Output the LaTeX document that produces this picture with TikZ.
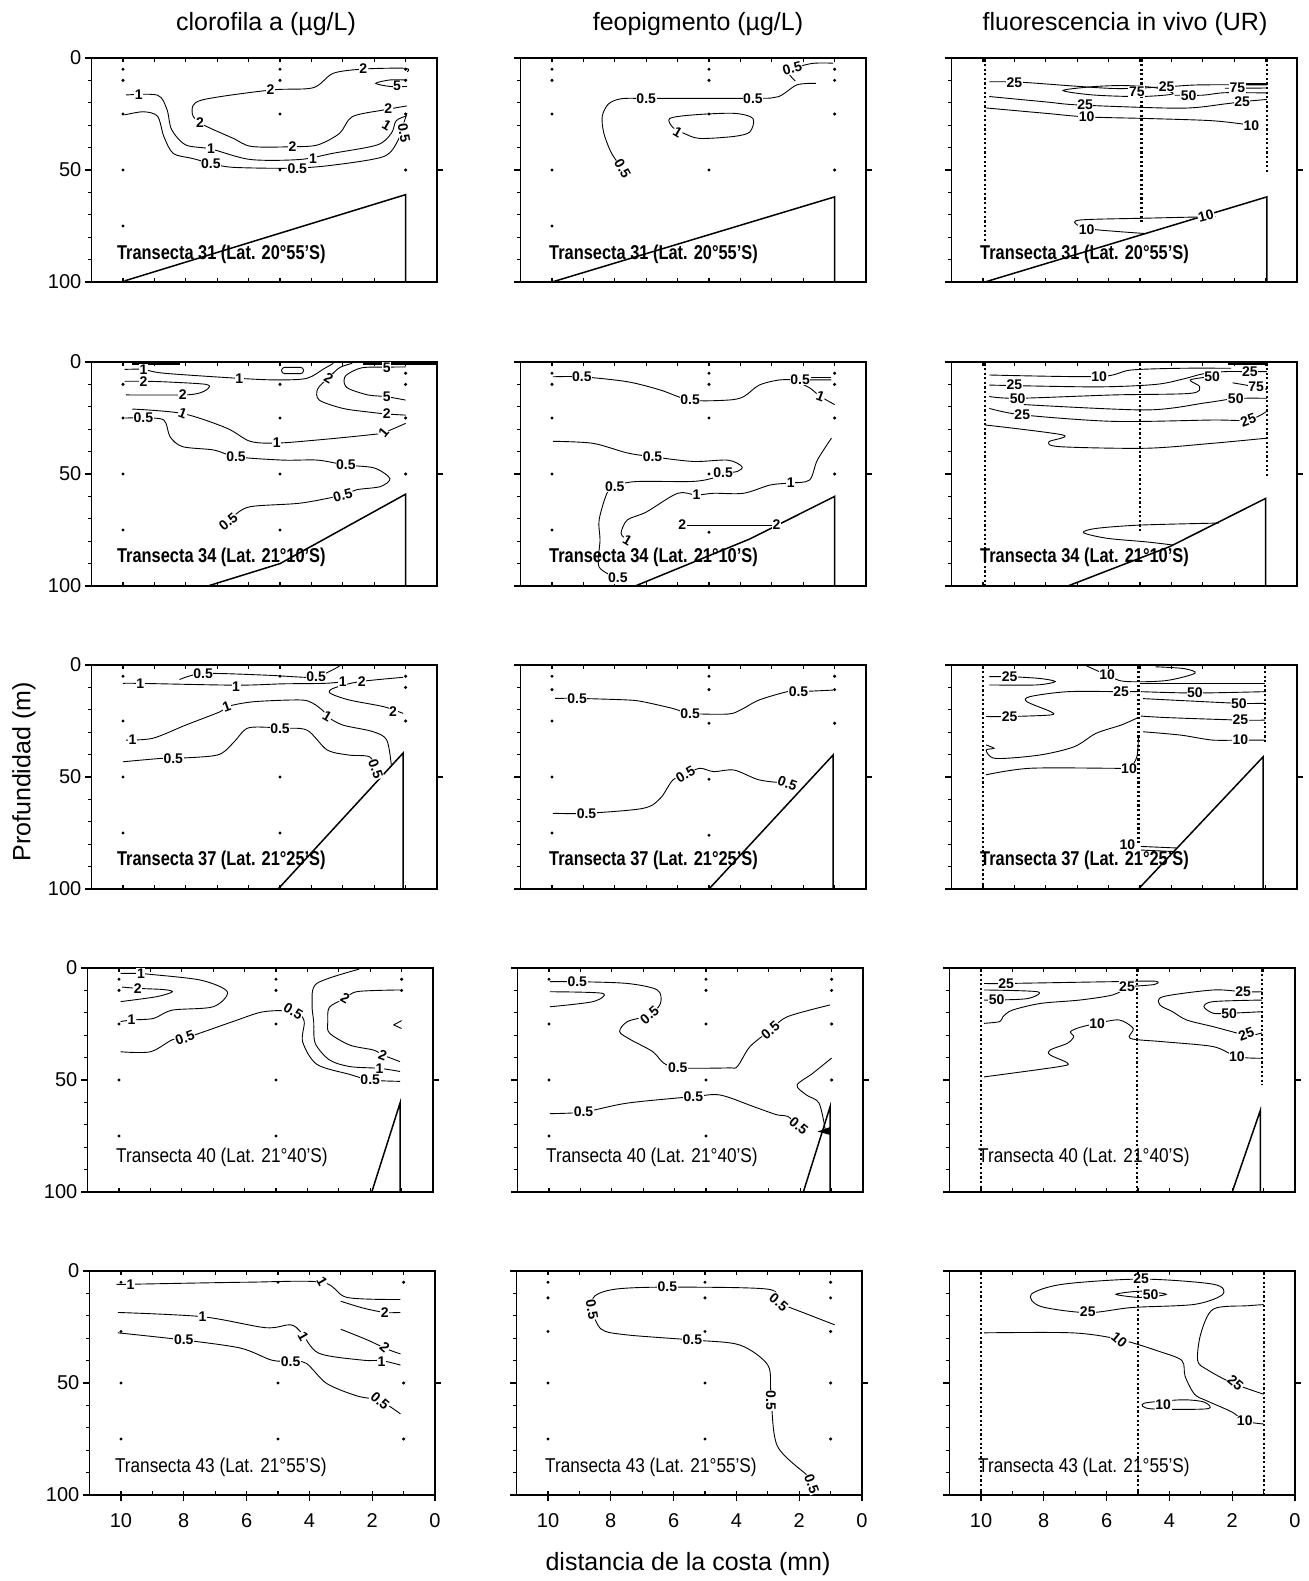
\documentclass[tikz,border=0pt]{standalone}
\usepackage{fontspec}
\setmainfont{Liberation Sans}
\newcounter{clc}
\newcommand{\clfont}{\fontsize{7}{7}\selectfont\bfseries}
\newcommand{\clab}[3][0]{\stepcounter{clc}\node[cl,rotate=#1] (c\arabic{clc}) at (#2) {#3};}
\newcommand{\stn}[1]{\foreach \px/\pd in {#1} {\fill (\px,\pd) circle[radius=0.85pt];}}
\newcommand{\prof}[2]{\draw[profl] (#1,0.6) -- (#1,#2);}
\newcommand{\pframe}{%
  \draw[frame] (11,0) rectangle (0,100);
  \draw[line width=1.3pt] (11,0) -- (0,0);
  \foreach \i in {1,...,10} {\draw[tick] (\i,0) -- (\i,1.6); \draw[tick] (\i,100) -- (\i,98.4);}
  \foreach \d in {10,20,30,40,60,70,80,90} {\draw[tick] (11,\d) -- (11.1,\d);}
  \foreach \d in {0,50,100} {\draw[tick] (11,\d) -- (11.22,\d);}
  \draw[tick] (0,50) -- (-0.2,50);
}
\newcommand{\ylabs}[1]{%
  \node[axl,anchor=east] (#1y0) at (11.25,0) {0};
  \node[axl,anchor=east] (#1y50) at (11.25,50) {50};
  \node[axl,anchor=east] (#1y100) at (11.25,100) {100};
}
\newcommand{\xlabs}[1]{%
  \foreach \v in {0,2,...,10} {\draw[tick] (\v,100) -- (\v,102.7); \node[axl] (#1\v) at (\v,111.5) {\v};}
}
\tikzset{
  panel/.style 2 args={shift={(#1,#2)}, x={(-15.7pt,0pt)}, y={(0pt,-1.12pt)}},
  ct/.style={line width=0.45pt},
  cl/.style={font=\clfont, fill=white, inner sep=0.3pt},
  frame/.style={line width=0.8pt},
  tick/.style={line width=0.6pt},
  sea/.style={line width=0.75pt, line join=miter},
  profl/.style={line width=1.1pt, dash pattern=on 1.1pt off 1.2pt},
  ttl/.style={font=\fontsize{12.5}{13}\selectfont, inner sep=0pt},
  axl/.style={font=\fontsize{10}{10}\selectfont, inner sep=1pt},
  trb/.style={font=\fontsize{10}{10}\selectfont\bfseries, anchor=west, inner sep=0pt, xscale=0.82},
  trr/.style={font=\fontsize{10}{10}\selectfont, anchor=west, inner sep=0pt, xscale=0.86}
}
\begin{document}
\begin{tikzpicture}[x=0.5pt,y=-0.5pt]
\useasboundingbox (0,0) rectangle (1308,1581);
\fill[white] (0,0) rectangle (1308,1581);

\node[ttl] (t1) at (266,24) {clorofila a (µg/L)};
\node[ttl] (t2) at (698,24) {feopigmento (µg/L)};
\node[ttl] (t3) at (1125,24) {fluorescencia in vivo (UR)};
\node[ttl,rotate=90] (ylab) at (24,772) {Profundidad (m)};
\node[ttl] (xlab) at (688,1564) {distancia de la costa (mn)};

%================ ROW 1 : Transecta 31
\begin{scope}[panel={437}{58}]
\pframe \ylabs{a}
\stn{10/5,10/10,10/25,10/50,10/75,5/5,5/10,5/25,5/50,1/5,1/10,1/25,1/50}
\draw[sea] (9.95,99.5) -- (1,61) -- (1,100);
\draw[ct] plot[smooth] coordinates {(0.95,6.2) (1.0,4.6) (2.3,4.9) (3.3,6.8) (3.95,13.3) (5.3,14.3) (7.5,18.8) (7.8,24) (7.55,29) (6.5,35.8) (5.9,39.5) (4.6,39.6) (3.8,38.8) (3.1,33.6) (2.7,26.2) (1.7,23.2) (0.96,21.4)};
\draw[ct] plot[smooth] coordinates {(0.95,9.8) (1.5,9.8) (1.95,11.3) (1.5,12.7) (0.95,12.7)};
\draw[ct] plot[smooth] coordinates {(9.9,16.5) (8.9,16.6) (8.6,23) (8.45,32) (8.0,38.8) (7.2,40.6) (5.95,45.3) (4.36,45.3) (3.3,42.5) (1.9,38.8) (1.45,33.5) (1.3,28) (0.96,25.8)};
\draw[ct] plot[smooth] coordinates {(9.95,25.4) (9.35,24) (8.9,26) (8.7,35) (8.4,42.6) (7.8,44.8) (7.2,47) (6.5,48.8) (4.6,49.2) (3.3,47.8) (1.7,44) (1.25,37) (1.1,31) (0.96,24.6)};
\clab{2.35,4.9}{2} \clab{5.3,14.3}{2} \clab{7.55,29}{2} \clab{4.6,39.6}{2} \clab{1.55,22.4}{2}
\clab{1.27,12.6}{5}
\clab{9.5,16.5}{1} \clab{7.2,40.3}{1} \clab{3.95,44.9}{1} \clab[-30]{1.6,30}{1}
\clab{7.2,47.3}{0.5} \clab{4.45,49.4}{0.5} \clab[-80]{1.05,33.5}{0.5}
\node[trb] (tr11) at (10.2,87.5) {Transecta 31 (Lat. 20°55'S)};
\end{scope}

\begin{scope}[panel={866}{58}]
\pframe
\stn{10/5,10/10,10/25,10/50,10/75,5/5,5/10,5/25,5/50,1/5,1/10,1/25,1/50}
\draw[sea] (10,100) -- (1,62) -- (1,100);
\draw[ct] plot[smooth] coordinates {(7.7,50.5) (8.1,42.6) (8.35,33.5) (8.4,26) (8.2,20.5) (7.8,18.2) (7.0,18) (3.6,18) (2.8,17.3) (2.2,12) (1.6,11.3)};
\draw[ct] plot[smooth] coordinates {(2.25,10.3) (2.45,7) (2.3,4.6) (1.7,2.4) (1.05,2.3)};
\draw[ct] plot[smooth cycle] coordinates {(6.25,27) (5.5,25.4) (4.2,24.7) (3.6,27) (3.7,33) (4.2,35) (5.3,35.9) (5.8,33.6) (6.15,31)};
\clab[-60]{7.75,49.5}{0.5} \clab{7.0,18}{0.5} \clab{3.6,18}{0.5} \clab[15]{2.35,4.6}{0.5} \clab[-30]{6.0,33}{1}
\node[trb] (tr12) at (10.1,87.5) {Transecta 31 (Lat. 20°55'S)};
\end{scope}

\begin{scope}[panel={1297}{58}]
\pframe
\prof{9.94}{82} \prof{4.95}{73} \prof{0.96}{51}
\draw[sea] (9.94,100) -- (0.96,62) -- (0.96,100);
\draw[ct] plot[smooth] coordinates {(9.8,10.6) (8.7,10.9) (5.86,13.6) (4.15,12.8) (3.1,12) (0.96,12)};
\draw[line width=1.4pt] (2.0,11.6) -- (0.96,11.6);
\draw[ct] plot[smooth cycle] coordinates {(7.45,14.5) (6.5,12.8) (5.5,12.3) (4.5,13.3) (3.95,16) (5.0,17.2) (6.5,16.5)};
\draw[ct] plot[smooth] coordinates {(3.9,16.6) (3.0,16.6) (2.3,15.5) (0.96,15.6)};
\draw[ct] (2.3,13.5) -- (0.96,13.4);
\draw[ct] plot[smooth] coordinates {(9.8,17.2) (8.0,19.6) (6.9,21) (3.7,22.4) (2.3,20.5) (1.75,19.5) (0.96,18.5)};
\draw[ct] plot[smooth] coordinates {(9.9,22.3) (8,24.7) (6.7,26.3) (4.8,27) (2.7,28) (1.45,30)};
\draw[ct] plot[smooth] coordinates {(2.6,70.8) (4.8,71.5) (6.9,72.3) (7.0,74.5) (6.5,76.5) (4.8,78.4)};
\clab{9.0,11}{25} \clab{4.15,12.6}{25} \clab{5.1,15.1}{75} \clab{3.45,17}{50} \clab{1.9,13.4}{75}
\clab{6.75,21}{25} \clab{1.75,19.5}{25} \clab{6.7,26.4}{10} \clab{1.45,30}{10}
\clab[15]{2.9,70.3}{10} \clab{6.7,76.8}{10}
\node[trb] (tr13) at (10.1,87.5) {Transecta 31 (Lat. 20°55'S)};
\end{scope}

%================ ROW 2 : Transecta 34
\begin{scope}[panel={437}{362}]
\pframe \ylabs{b}
\stn{10/10,10/25,10/50,10/75,5/10,5/25,5/50,5/75,1/5,1/10,1/25,1/50}
\draw[sea] (7.3,100) -- (5.0,90) -- (1.0,59) -- (1.0,100);
\draw[line width=1.5pt] (9.7,0.7) -- (8.2,0.7);
\draw[line width=1.5pt] (2.35,0.7) -- (0,0.7);
\draw[ct] plot[smooth] coordinates {(9.95,3.3) (9.35,3.3) (8.7,5) (6.3,7.3) (5.1,8) (4.15,7.3) (3.6,3) (3.3,0.6)};
\draw[ct,rounded corners=1.5pt] (4.95,2.4) rectangle (4.25,5.2);
\draw[ct] plot[smooth] coordinates {(9.95,8.6) (9.35,8.6) (8.6,8.9) (7.35,10) (7.3,12) (7.6,14) (8.1,14.7) (9.9,14.7)};
\draw[ct] plot[smooth] coordinates {(1.0,2.2) (1.6,2.3) (2.4,2.6) (2.9,6) (2.95,9.6) (2.8,12) (2.2,14.7) (1.6,15.5) (1.0,17)};
\draw[ct] plot[smooth] coordinates {(2.7,0.6) (3.1,2.5) (3.45,7) (3.8,12) (3.75,17) (3.0,20.7) (2.2,22.3) (1.6,23.2) (1.0,23.7)};
\draw[ct] plot[smooth] coordinates {(9.7,21) (8.1,23) (6.7,29.5) (5.95,35.4) (5.1,36.2) (3.8,34.8) (2.2,32.6) (1.7,31.5) (1.0,27.4)};
\draw[ct] plot[smooth] coordinates {(9.95,25) (9.35,25) (8.7,25.9) (8.5,33.4) (8.1,37.8) (7.1,39.3) (6.4,42.3) (4.9,43.8) (3.8,43.8) (2.9,46) (2.0,47.3) (1.5,52) (1.8,55.6) (2.55,57) (3.0,59.4) (4.35,63) (5.95,64.6) (6.5,69) (6.7,71.5)};
\clab{9.35,3.3}{1} \clab{6.3,7.3}{1} \clab{9.35,8.6}{2} \clab{8.1,14.7}{2}
\clab{1.6,2.4}{5} \clab{1.6,15.5}{5} \clab[-30]{3.45,7.3}{2} \clab{1.6,23.2}{2}
\clab[-20]{8.1,23}{1} \clab{5.1,36}{1} \clab[50]{1.7,31.5}{1}
\clab{9.35,25}{0.5} \clab{6.4,42.3}{0.5} \clab{2.9,46}{0.5} \clab[15]{3.0,59.4}{0.5} \clab[40]{6.65,71.3}{0.5}
\node[trb] (tr21) at (10.2,87) {Transecta 34 (Lat. 21°10'S)};
\end{scope}

\begin{scope}[panel={866}{362}]
\pframe
\stn{10/5,10/10,10/25,10/50,10/75,5/5,5/10,5/25,5/50,5/76,1/5,1/10,1/25,1/50}
\draw[sea] (7.35,100) -- (3.7,79) -- (1.0,60) -- (1.0,100);
\draw[ct] plot[smooth] coordinates {(9.97,6.6) (9.05,6.6) (7.6,8.8) (6.55,12.5) (5.6,17) (4.4,17) (3.9,15.5) (3.4,10.3) (2.75,8) (2.1,8) (1.1,8)};
\draw[ct] (1.75,6.8) -- (1.1,6.8);
\draw[ct] plot[smooth] coordinates {(2.2,8.8) (1.8,11.5) (1.45,15.4) (1.0,19)};
\draw[ct] plot[smooth] coordinates {(9.97,35.4) (8.7,36.3) (7.6,40.6) (6.8,42.3) (5.5,44.4) (4.4,43.8) (3.95,46.7) (4.1,48.9) (4.55,49.6) (4.8,51.5) (5.5,53.3) (7.36,53.4) (8.0,55.6) (8.25,58.6) (8.5,70.5) (8.47,79.5) (8.5,91.5) (7.9,96.5)};
\draw[ct] plot[smooth] coordinates {(1.1,34) (1.55,43.8) (1.8,52.7) (2.4,54) (3.05,54.9) (3.9,58.6) (4.85,58.6) (5.4,59.4) (6.0,58.6) (7.0,67) (7.6,70.5) (7.8,76.5) (7.6,79.5)};
\draw[ct] (5.85,72.8) -- (2.85,72.8);
\clab{9.05,6.6}{0.5} \clab{5.6,17}{0.5} \clab{2.1,7.9}{0.5} \clab[-20]{1.45,15.4}{1}
\clab{6.8,42.3}{0.5} \clab{4.55,49.6}{0.5} \clab{8.0,55.6}{0.5} \clab{7.9,96.5}{0.5}
\clab{2.4,54}{1} \clab{5.4,59.4}{1} \clab[-30]{7.6,79.5}{1} \clab{5.85,72.8}{2} \clab{2.85,72.5}{2}
\node[trb] (tr22) at (10.1,87) {Transecta 34 (Lat. 21°10'S)};
\end{scope}

\begin{scope}[panel={1297}{362}]
\pframe
\prof{9.94}{100} \prof{5.0}{76} \prof{0.96}{51}
\draw[sea] (7.3,100) -- (4.05,82.4) -- (1.0,60.9) -- (1.0,100);
\draw[line width=1.4pt] (2.2,0.7) -- (0.96,0.7);
\draw[ct] plot[smooth] coordinates {(9.8,5.8) (6.3,6.5) (5.3,3.6) (3.7,2.8) (2.1,2.8)};
\draw[ct] plot[smooth] coordinates {(9.8,10.3) (6.4,11.1) (4.5,10) (3.6,7.5) (3.0,5.3) (2.3,4.3) (1.5,4.3) (0.96,4.3)};
\draw[ct] plot[smooth] coordinates {(9.8,15.4) (8.9,16.2) (5.85,14.7) (3.4,14) (3.1,11) (3.4,8) (2.7,6.5)};
\draw[ct] plot[smooth] coordinates {(2.05,9.3) (1.3,11.1) (0.96,12.2)};
\draw[ct] plot[smooth] coordinates {(8.7,19) (4.8,21.4) (2.9,18.2) (1.95,16.3) (0.96,16.2)};
\draw[ct] plot[smooth] coordinates {(9.8,20.7) (8.75,23.6) (5.85,26.5) (2.7,25.9) (1.55,25.9) (0.96,22)};
\draw[ct] plot[smooth] coordinates {(9.94,28.1) (7.45,32.6) (7.9,35.6) (7.55,37.8) (4.8,38.5) (2.7,36.3) (0.96,34)};
\draw[ct] plot[smooth] coordinates {(2.5,71.9) (5.0,72.8) (6.4,74.3) (6.8,76.2) (6.05,78.7) (4.8,80.3) (3.95,81.7)};
\clab{6.3,6.5}{10} \clab{9.0,10.3}{25} \clab{1.5,4.3}{25} \clab{8.9,16.2}{50} \clab{2.7,6.5}{50}
\clab{1.3,11.1}{75} \clab{1.95,16.3}{50} \clab{8.75,23.6}{25} \clab[20]{1.55,25.9}{25}
\node[trb] (tr23) at (10.1,87) {Transecta 34 (Lat. 21°10'S)};
\end{scope}

%================ ROW 3 : Transecta 37
\begin{scope}[panel={437}{665}]
\pframe \ylabs{c}
\stn{10/5,10/25,10/50,10/75,5/5,5/50,5/75,1/5,1/10,1/25}
\draw[sea] (5.06,100) -- (1.08,39.3) -- (1.08,100);
\draw[ct] plot[smooth] coordinates {(8.2,6.5) (7.45,3.8) (5.5,4.5) (4.2,5.5) (3.8,5.2) (3.3,2) (3.1,0.4)};
\draw[ct] plot[smooth] coordinates {(10,8.2) (9.45,8.2) (6.4,9) (4.9,8.4) (3.6,8.2) (3.0,7.5)};
\draw[ct] plot[smooth] coordinates {(1.08,5.5) (2.5,7.5) (3.3,10.4) (3.4,12.6) (2.8,15.6) (1.7,18.6) (1.08,21.6)};
\draw[ct] plot[smooth] coordinates {(9.9,33.5) (9.05,32.7) (8.0,26.8) (6.9,20.8) (6.7,18.6) (5.85,16.4) (4.36,15.6) (3.95,17.1) (3.6,20.8) (3.5,23) (3.0,26.8) (2.05,29.7) (1.6,33.5) (1.45,45.3)};
\draw[ct] plot[smooth] coordinates {(10,43.2) (8.8,41.7) (8.4,41.7) (7.0,40.2) (6.5,34.9) (6.05,28.3) (5.4,27.8) (5.0,28.3) (4.15,29) (3.5,37.9) (2.8,40.2) (2.15,41) (1.9,46.9)};
\clab{7.45,3.8}{0.5} \clab{3.85,5.0}{0.5} \clab{9.45,8.2}{1} \clab{6.4,9.6}{1} \clab{3.0,7.6}{1} \clab{2.4,7.6}{2}
\clab{1.4,20.6}{2} \clab{9.7,33.5}{1} \clab[20]{6.7,18.6}{1} \clab[-30]{3.5,23}{1}
\clab{8.4,41.7}{0.5} \clab{5.0,28.3}{0.5} \clab[-70]{1.95,46.5}{0.5}
\node[trb] (tr31) at (10.2,87) {Transecta 37 (Lat. 21°25'S)};
\end{scope}

\begin{scope}[panel={866}{665}]
\pframe
\stn{10/5,10/11,10/25,10/50,10/75,5/5,5/11,5/26,5/51,5/76,1/5,1/11,1/26}
\draw[sea] (5.0,100) -- (1.05,40.2) -- (1.05,100);
\draw[ct] plot[smooth] coordinates {(9.9,14.9) (9.2,14.9) (7.6,15.6) (7.1,16.4) (6.15,19.4) (5.6,21.6) (4.4,21.9) (4.0,20.1) (3.4,15.6) (2.5,11.9) (2.15,11.9) (1.05,11.2)};
\draw[ct] plot[smooth] coordinates {(9.97,66.2) (8.9,66.2) (7.1,64) (6.55,59.5) (6.15,51.3) (5.75,49) (5.3,46.1) (4.85,47.6) (4.2,46.9) (3.4,51.3) (2.5,52.8)};
\clab{9.2,14.9}{0.5} \clab{5.6,21.6}{0.5} \clab{2.15,11.9}{0.5}
\clab{8.9,66.2}{0.5} \clab[30]{5.75,49}{0.5} \clab[-20]{2.5,52.8}{0.5}
\node[trb] (tr32) at (10.1,87) {Transecta 37 (Lat. 21°25'S)};
\end{scope}

\begin{scope}[panel={1297}{665}]
\pframe
\prof{10}{100} \prof{5.05}{80.4} \prof{1.02}{34.3}
\draw[sea] (5.05,100) -- (1.08,41) -- (1.08,100);
\draw[ct] plot[smooth] coordinates {(6.7,0.4) (6.05,4.5) (5.5,7.3) (4.2,7.0) (3.25,3.7) (3.6,1.6) (4.5,0.8)};
\draw[ct] plot[smooth] coordinates {(9.8,5.2) (9.15,5.2) (8.2,6) (7.7,7.4) (8.3,8.9) (9.8,8.9)};
\draw[ct] (5.0,8.2) -- (1.02,8.2);
\draw[ct] plot[smooth] coordinates {(5.05,11.9) (5.6,11.9) (7.3,11.9) (8.5,14.1) (8.6,16.4) (7.85,20.8) (7.85,22.3) (9.15,23) (9.9,23)};
\draw[ct] plot[smooth] coordinates {(4.97,11.9) (3.25,12.5) (1.02,11.9)};
\draw[ct] plot[smooth] coordinates {(4.9,15) (3.5,16) (1.85,17.1) (1.02,17.1)};
\draw[ct] plot[smooth] coordinates {(4.97,22.8) (4.1,23.5) (1.8,24.6) (1.02,24.6)};
\draw[ct] plot[smooth] coordinates {(4.9,29.8) (3.7,31.3) (2.7,33.5) (1.8,33.5) (1.02,33.5)};
\draw[ct] plot[smooth] coordinates {(9.9,35.7) (9.65,37.2) (9.9,38) (9.6,41.7) (8.2,40.2) (7.1,36.5) (6.4,30.5) (5.6,26.8) (5.05,23.4)};
\draw[ct] plot[smooth] coordinates {(9.9,49) (8.5,46.1) (5.85,46.1) (5.35,46.1) (5.1,41) (5.05,32.1)};
\draw[ct] (4.97,81) -- (3.8,81.7);
\draw[ct] (4.97,82.6) -- (3.9,83.3);
\clab{6.05,4.5}{10} \clab{9.15,5.2}{25} \clab{5.6,11.9}{25} \clab{9.15,23}{25} \clab{3.25,12.5}{50}
\clab{1.85,17.1}{50} \clab{1.8,24.6}{25} \clab{1.8,33.5}{10} \clab{5.35,46.1}{10} \clab{5.4,80}{10}
\node[trb] (tr33) at (10.1,87) {Transecta 37 (Lat. 21°25'S)};
\end{scope}

%================ ROW 4 : Transecta 40
\begin{scope}[panel={433}{968}]
\pframe \ylabs{d}
\stn{10/5,10/10,10/25,10/50,10/75,5/5,5/10,5/25,5/50,5/75,1/5,1/10}
\draw[sea] (1.95,100) -- (1.05,60.3) -- (1.05,100);
\draw[ct] plot[smooth] coordinates {(9.95,2.4) (9.3,2.4) (9.1,2.7) (7.4,5.4) (6.55,10.6) (7.0,17.3) (8.3,18.8) (8.9,22.5) (9.6,23.2) (9.95,23.9)};
\draw[ct] plot[smooth] coordinates {(9.9,8.5) (9.4,9.1) (8.6,9.6) (8.3,10.6) (8.8,12.8) (9.95,15)};
\draw[ct] plot[smooth] coordinates {(9.95,37.4) (9.0,37.4) (8.3,32) (7.9,31.3) (6.37,23.9) (5.5,19.8) (4.8,19) (4.3,20) (4.1,24) (4.15,33) (3.7,43) (2.65,47.5) (2.0,50) (1.05,50.6)};
\draw[ct] plot[smooth] coordinates {(1.05,9.8) (2.4,10.5) (2.8,13.6) (3.3,17.5) (3.35,24) (3.3,29) (2.65,34.4) (1.9,36.6) (1.6,38.8) (1.05,41.8)};
\draw[ct] plot[smooth] coordinates {(2.35,0.5) (3.7,6.9) (3.85,16) (3.8,24) (3.75,33.6) (3.3,41) (2.65,44) (1.7,44.8) (1.05,46.2)};
\draw[ct] (1.0,23.5) -- (1.25,25.4) -- (1.0,27);
\clab{9.3,2.4}{1} \clab{9.6,23.2}{1} \clab{9.4,9.1}{2}
\clab[20]{7.9,31.3}{0.5} \clab[-30]{4.45,19.3}{0.5} \clab{2.0,50}{0.5}
\clab[-30]{2.8,13.6}{2} \clab[-20]{1.6,38.8}{2} \clab{1.7,44.8}{1}
\node[trr] (tr41) at (10.1,84.5) {Transecta 40 (Lat. 21°40'S)};
\end{scope}

\begin{scope}[panel={863}{968}]
\pframe
\stn{10/5,10/25,10/50,10/75,5/5,5/10,5/25,5/50,5/75,1/5,1/10,1/25,1/50}
\draw[sea] (1.9,100) -- (1.05,62) -- (1.05,100);
\draw[ct] plot[smooth] coordinates {(9.97,6.1) (9.1,6.1) (7.5,6.9) (6.55,9.8) (6.45,15.8) (6.8,21) (7.5,23.9) (7.75,28.4) (7.4,32) (6.7,37.3) (6.35,42.4) (5.9,44.6) (4.3,44.6) (4.0,43.9) (3.6,35.1) (2.95,27.7) (2.4,21.7) (1.05,16.5)};
\draw[ct] plot[smooth] coordinates {(9.97,10.6) (8.3,11.3) (8.6,15) (9.97,17.3)};
\draw[ct] plot[smooth] coordinates {(9.97,65) (8.9,64.3) (7.5,60.3) (5.4,57.4) (4.55,56.7) (3.5,61.8) (2.75,65.5) (2.4,66.2) (2.05,70.8)};
\draw[ct] plot[smooth] coordinates {(1.0,40.2) (1.6,47) (2.1,52.3) (1.8,56.7) (1.4,60.3) (1.2,72.3)};
\fill (1.05,71) -- (1.45,73) -- (1.05,74.5) -- cycle;
\clab{9.1,6.1}{0.5} \clab[40]{6.8,21}{0.5} \clab{5.9,44.6}{0.5} \clab[40]{2.95,27.7}{0.5}
\clab{8.9,64.3}{0.5} \clab{5.4,57.4}{0.5} \clab[-40]{2.05,70.5}{0.5}
\node[trr] (tr42) at (10.1,84.5) {Transecta 40 (Lat. 21°40'S)};
\end{scope}

\begin{scope}[panel={1295}{968}]
\pframe
\prof{10}{100} \prof{5.03}{100} \prof{1.05}{52.2}
\draw[sea] (2.0,100) -- (1.1,63.4) -- (1.1,100);
\draw[ct] plot[smooth] coordinates {(9.9,6.9) (9.2,6.9) (5.8,6.1) (4.45,5.9) (4.5,7.4) (5.35,8.3)};
\draw[ct] plot[smooth] coordinates {(5.35,8.6) (5.8,12) (6.85,14.3) (8.1,15.8) (9.0,18.8) (9.3,21.7) (9.4,23.9) (9.9,24.7)};
\draw[ct] plot[smooth] coordinates {(9.9,9.8) (8.2,10.6) (8.5,13.6) (9.5,14.3) (9.9,14.3)};
\draw[ct] plot[smooth] coordinates {(9.9,48.6) (7.5,44) (7.25,42.4) (7.8,38.8) (7.8,36.6) (7.25,33.6) (7.05,30.7) (7.15,28.4) (6.85,26.5) (6.3,24.7) (5.6,23.2) (5.15,27) (5.25,31.4) (4.2,32.9) (2.6,35.1) (1.85,39.6) (1.05,40.3)};
\draw[ct] plot[smooth] coordinates {(1.05,10.6) (1.65,10.6) (2.6,9.8) (4.2,12.8) (4.3,16.5) (3.9,19.5) (3.45,23.2) (2.6,26.2) (1.55,29.9) (1.05,29)};
\draw[ct] plot[smooth] coordinates {(1.05,14.3) (2.6,15) (2.9,17.3) (2.6,20.2) (2.1,20.2) (1.05,19.5)};
\clab{9.2,6.9}{25} \clab{5.35,8.3}{25} \clab{9.5,14.3}{50} \clab{6.3,24.7}{10} \clab{1.85,39.6}{10}
\clab{1.65,10.6}{25} \clab[20]{1.55,29.6}{25} \clab{2.1,20.2}{50}
\node[trr] (tr43) at (10.1,84.5) {Transecta 40 (Lat. 21°40'S)};
\end{scope}

%================ ROW 5 : Transecta 43
\begin{scope}[panel={435}{1271}]
\pframe \ylabs{e} \xlabs{ea}
\stn{10/5,10/27,10/50,10/75,5/5,5/50,5/75,1/5,1/50,1/75}
\draw[ct] plot[smooth] coordinates {(10.1,5.9) (9.7,5.9) (6,5) (3.6,5) (2.8,11.8) (1.1,12.7)};
\draw[ct] plot[smooth] coordinates {(3.0,13.5) (2.3,16.5) (1.6,18.5) (1.1,18.5)};
\draw[ct] plot[smooth] coordinates {(10.1,18.5) (7.4,20.4) (5.4,25.3) (4.6,24) (4.25,27.6) (3.7,36.7) (2.3,39.8) (1.7,40) (1.1,42)};
\draw[ct] plot[smooth] coordinates {(3.0,26) (2.2,30.5) (1.5,35) (1.1,37)};
\draw[ct] plot[smooth] coordinates {(10.1,27.6) (8.0,30.8) (6.2,34.4) (5.2,39.8) (4.6,40.3) (4.1,41.2) (3.45,50.2) (2.5,55.7) (1.75,57.9) (1.1,63.8)};
\clab{9.7,5.9}{1} \clab[-60]{3.6,4.5}{1} \clab{1.6,18.5}{2}
\clab{7.4,20.4}{1} \clab[-60]{4.2,29}{1} \clab{1.7,40.3}{1} \clab[-40]{1.6,34.2}{2}
\clab{8.0,30.8}{0.5} \clab{4.6,40.3}{0.5} \clab[-40]{1.75,58}{0.5}
\node[trr] (tr51) at (10.2,87.5) {Transecta 43 (Lat. 21°55'S)};
\end{scope}

\begin{scope}[panel={862}{1271}]
\pframe \xlabs{eb}
\stn{10/5,10/12,10/27,10/50,10/75,5/5,5/12,5/27,5/50,5/75,1/5,1/12,1/27,1/50,1/75}
\draw[ct] plot[smooth] coordinates {(0.87,24) (1.7,19.5) (2.65,14) (3.0,8.1) (6.2,7.2) (7.8,8) (8.5,11) (8.6,17) (8.3,26) (7.5,28.5) (5.4,30.8) (3.9,33) (3.0,42) (2.9,55) (2.7,78) (1.7,91.8) (1.6,95)};
\clab{6.2,7.2}{0.5} \clab[-80]{8.6,17.2}{0.5} \clab[-40]{2.65,14}{0.5}
\clab{5.4,30.8}{0.5} \clab[-90]{2.9,57.9}{0.5} \clab[-70]{1.6,95}{0.5}
\node[trr] (tr52) at (10.1,87.5) {Transecta 43 (Lat. 21°55'S)};
\end{scope}

\begin{scope}[panel={1295}{1271}]
\pframe \xlabs{ec}
\prof{10}{100} \prof{5}{100} \prof{1}{100}
\draw[ct] plot[smooth cycle] coordinates {(8.4,10.4) (7.4,5.9) (4.9,3.6) (2.6,5.9) (2.3,10.4) (3.2,14.9) (5.2,16.3) (6.6,18.6) (8.1,15.8)};
\draw[ct] plot[smooth cycle] coordinates {(5.7,10.4) (4.9,9) (4.1,10.4) (4.9,11.8)};
\draw[ct] plot[smooth] coordinates {(1,15) (1.5,15.5) (2.6,17) (3.0,28) (3.1,40) (2.8,44) (2.0,50) (1,55)};
\draw[ct] plot[smooth] coordinates {(9.9,27.6) (7.1,27.6) (5.6,30.5) (4.3,36) (3.6,40) (3.5,47) (3.2,55) (2.8,58) (2.0,63) (1.6,67) (1,68.3)};
\draw[ct] plot[smooth cycle] coordinates {(4.8,59) (3.6,57.5) (2.9,58.5) (2.8,61.5) (4.6,61.5)};
\clab{4.9,3.6}{25} \clab{6.6,18.3}{25} \clab{4.6,10.4}{50}
\clab[-40]{1.9,50}{25} \clab[-40]{5.6,30.8}{10} \clab{1.6,67}{10} \clab{4.2,59.5}{10}
\node[trr] (tr53) at (10.1,87.5) {Transecta 43 (Lat. 21°55'S)};
\end{scope}
\end{tikzpicture}
\end{document}
